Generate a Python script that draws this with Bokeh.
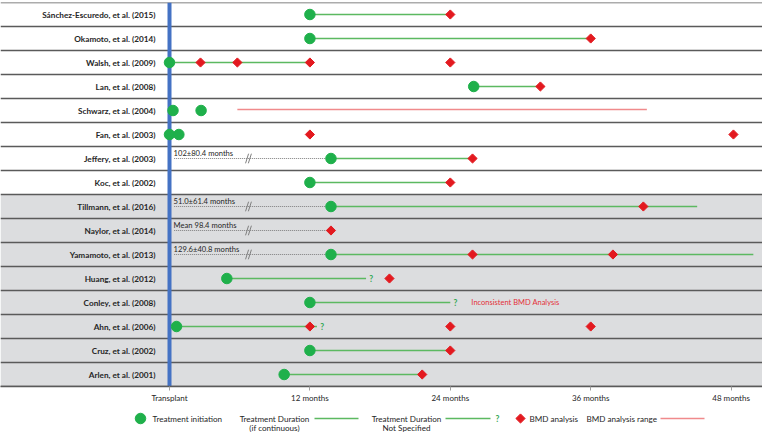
from bokeh.plotting import figure
from bokeh.models import Range1d, FixedTicker
from bokeh.layouts import column
from bokeh.core.properties import value
from bokeh.embed import file_html
from bokeh.resources import INLINE

# ---------------- data ----------------
studies = [
    "Sánchez-Escuredo, et al. (2015)",
    "Okamoto, et al. (2014)",
    "Walsh, et al. (2009)",
    "Lan, et al. (2008)",
    "Schwarz, et al. (2004)",
    "Fan, et al. (2003)",
    "Jeffery, et al. (2003)",
    "Koc, et al. (2002)",
    "Tillmann, et al. (2016)",
    "Naylor, et al. (2014)",
    "Yamamoto, et al. (2013)",
    "Huang, et al. (2012)",
    "Conley, et al. (2008)",
    "Ahn, et al. (2006)",
    "Cruz, et al. (2002)",
    "Arlen, et al. (2001)",
]
shaded_from = 8  # first study of the shaded (grey) group

# treatment initiation (circles)
init_row = [0, 1, 2, 3, 4, 4, 5, 5, 6, 7, 8, 10, 11, 12, 13, 14, 15]
init_month = [12, 12, 0, 26, 0.3, 2.7, 0, 0.8, 13.8, 12, 13.8, 13.8, 4.9, 12, 0.6, 12, 9.8]

# BMD analysis (diamonds)
bmd_row = [0, 1, 2, 2, 2, 2, 3, 5, 5, 6, 7, 8, 9, 10, 10, 11, 13, 13, 13, 14, 15]
bmd_month = [24, 36, 2.65, 5.8, 12, 24, 31.7, 12, 48.2, 25.9, 24, 40.5, 13.8, 25.9, 37.9,
             18.8, 12, 24, 36, 24, 21.6]

# continuous treatment duration
dur_row = [0, 1, 2, 3, 6, 7, 8, 10, 14, 15]
dur_start = [12, 12, 0, 26, 13.8, 12, 13.8, 13.8, 12, 9.8]
dur_end = [24, 36, 12, 31.7, 25.9, 24, 45.1, 49.9, 24, 21.6]

# treatment duration not specified
unspec_row = [11, 12, 13]
unspec_start = [4.9, 12, 0.6]
unspec_end = [16.8, 24, 12.6]

# BMD analysis range
range_row = [4]
range_start = [5.8]
range_end = [40.8]

# time before study start (broken axis)
prior_row = [6, 8, 9, 10]
prior_label = ["102±80.4 months", "51.0±61.4 months", "Mean 98.4 months", "129.6±40.8 months"]
prior_end = [13.8, 13.8, 13.8, 13.8]

note_row = [12]
note_text = ["Inconsistent BMD Analysis"]
note_month = [25.8]

tick_values = [0, 12, 24, 36, 48]
tick_labels = ["Transplant", "12 months", "24 months", "36 months", "48 months"]

# ---------------- styles ----------------
FONT = value("Lato")
BLUE = "#4472c4"
GREEN_DOT = "#1fb04b"
GREEN_LINE = "#5cb961"
QMARK = "#34a853"
RED = "#e3191f"
PINK = "#f08a8c"
SEP = "#5a5a5a"
GREY = "#dcdddf"
TXT = "#262626"

W = 762
PX_PER_MONTH = 11.7
XS = -169 / PX_PER_MONTH
XE = XS + W / PX_PER_MONTH
NROW = len(studies)


def yc(r):
    return NROW - 0.5 - r


p = figure(frame_width=W, frame_height=384, x_range=Range1d(XS, XE), y_range=Range1d(0, NROW),
           output_backend="svg", toolbar_location=None, y_axis_type=None, min_border=0,
           background_fill_color="white", border_fill_color="white")
p.min_border_top = 2
p.outline_line_color = None
p.grid.visible = False

# shaded group
p.quad(left=[XS], right=[XE], bottom=[0], top=[NROW - shaded_from], fill_color=GREY, line_color=None)
# separators
p.hspan(y=list(range(NROW + 1)), line_color=SEP, line_width=1.5)
# transplant line
p.vspan(x=[tick_values[0]], line_color=BLUE, line_width=4)

# prior period (dotted) + label + break marks
py = [yc(r) for r in prior_row]
p.segment(x0=[0.4] * len(prior_row), y0=py, x1=prior_end, y1=py, line_color="#7f7f7f",
          line_width=1, line_dash="1 1")
BREAK_AT = 6.75
for dx in (-0.12, 0.12):
    p.segment(x0=[BREAK_AT + dx - 0.13] * len(py), y0=[y - 0.2 for y in py],
              x1=[BREAK_AT + dx + 0.13] * len(py), y1=[y + 0.2 for y in py],
              line_color="#7f7f7f", line_width=1)
p.text(x=[0.35] * len(py), y=[y + 0.03 for y in py], text=prior_label, text_font=FONT,
       text_font_size="7.6px", text_color=TXT, text_baseline="bottom", text_align="left")

# durations
p.segment(x0=dur_start, y0=[yc(r) for r in dur_row], x1=dur_end, y1=[yc(r) for r in dur_row],
          line_color=GREEN_LINE, line_width=1.5)
p.segment(x0=unspec_start, y0=[yc(r) for r in unspec_row], x1=unspec_end,
          y1=[yc(r) for r in unspec_row], line_color=GREEN_LINE, line_width=1.5)
p.text(x=[e + 0.45 for e in unspec_end], y=[yc(r) for r in unspec_row], text=["?"] * len(unspec_row),
       text_font=FONT, text_font_size="8.5px", text_font_style="bold", text_color=QMARK,
       text_align="center", text_baseline="middle")
p.segment(x0=range_start, y0=[yc(r) + 0.04 for r in range_row], x1=range_end,
          y1=[yc(r) + 0.04 for r in range_row], line_color=PINK, line_width=1.5)

# markers
p.scatter(x=init_month, y=[yc(r) for r in init_row], marker="circle", size=10.5,
          fill_color=GREEN_DOT, line_color=GREEN_DOT)
p.scatter(x=bmd_month, y=[yc(r) for r in bmd_row], marker="square", angle=0.785398, size=6.5,
          fill_color=RED, line_color=RED)

# note
p.text(x=note_month, y=[yc(r) for r in note_row], text=note_text, text_font=FONT,
       text_font_size="7.5px", text_color="#e3303a", text_baseline="middle", text_align="left")

# study labels
p.text(x=[-1.2] * NROW, y=[yc(r) for r in range(NROW)], text=studies, text_font=FONT,
       text_font_size="8.2px", text_font_style="bold", text_color=TXT, text_align="right",
       text_baseline="middle")

# x axis
ax = p.xaxis[0]
ax.ticker = FixedTicker(ticks=tick_values)
ax.major_label_overrides = {t: l for t, l in zip(tick_values, tick_labels)}
ax.axis_line_color = SEP
ax.axis_line_width = 1.5
ax.major_tick_line_color = "#a0a0a0"
ax.major_tick_out = 4
ax.major_tick_in = 0
ax.minor_tick_line_color = None
ax.major_label_text_font = "Lato"
ax.major_label_text_font_size = "8px"
ax.major_label_text_color = TXT
ax.major_label_standoff = 2

# ---------------- legend ----------------
leg = figure(frame_width=W, frame_height=27, x_range=Range1d(0, W), y_range=Range1d(431, 404),
             output_backend="svg", toolbar_location=None, x_axis_type=None, y_axis_type=None,
             min_border=0, background_fill_color="white", border_fill_color="white")
leg.outline_line_color = None
leg.grid.visible = False
L1, L2 = 417, 426
LFS = "8.1px"
leg.scatter(x=[140], y=[L1], marker="circle", size=10.5, fill_color=GREEN_DOT, line_color=GREEN_DOT)
leg.text(x=[152], y=[L1], text=["Treatment initiation"], text_font=FONT, text_font_size=LFS,
         text_color=TXT, text_baseline="middle", text_align="left")
leg.text(x=[274, 274], y=[L1, L2], text=["Treatment Duration", "(if continuous)"], text_font=FONT,
         text_font_size=LFS, text_color=TXT, text_baseline="middle", text_align="center")
leg.segment(x0=[314], y0=[L1], x1=[358], y1=[L1], line_color=GREEN_LINE, line_width=1.5)
leg.text(x=[406, 406], y=[L1, L2], text=["Treatment Duration", "Not Specified"], text_font=FONT,
         text_font_size=LFS, text_color=TXT, text_baseline="middle", text_align="center")
leg.segment(x0=[445], y0=[L1], x1=[490], y1=[L1], line_color=GREEN_LINE, line_width=1.5)
leg.text(x=[497], y=[L1], text=["?"], text_font=FONT, text_font_size="8.5px", text_font_style="bold",
         text_color=QMARK, text_baseline="middle", text_align="center")
leg.scatter(x=[520], y=[L1], marker="square", angle=0.785398, size=6.5, fill_color=RED, line_color=RED)
leg.text(x=[529], y=[L1], text=["BMD analysis"], text_font=FONT, text_font_size=LFS,
         text_color=TXT, text_baseline="middle", text_align="left")
leg.text(x=[586], y=[L1], text=["BMD analysis range"], text_font=FONT, text_font_size=LFS,
         text_color=TXT, text_baseline="middle", text_align="left")
leg.segment(x0=[660], y0=[L1], x1=[704], y1=[L1], line_color=PINK, line_width=1.5)

layout = column(p, leg, spacing=0)
open("out.html", "w").write(file_html(layout, INLINE))
